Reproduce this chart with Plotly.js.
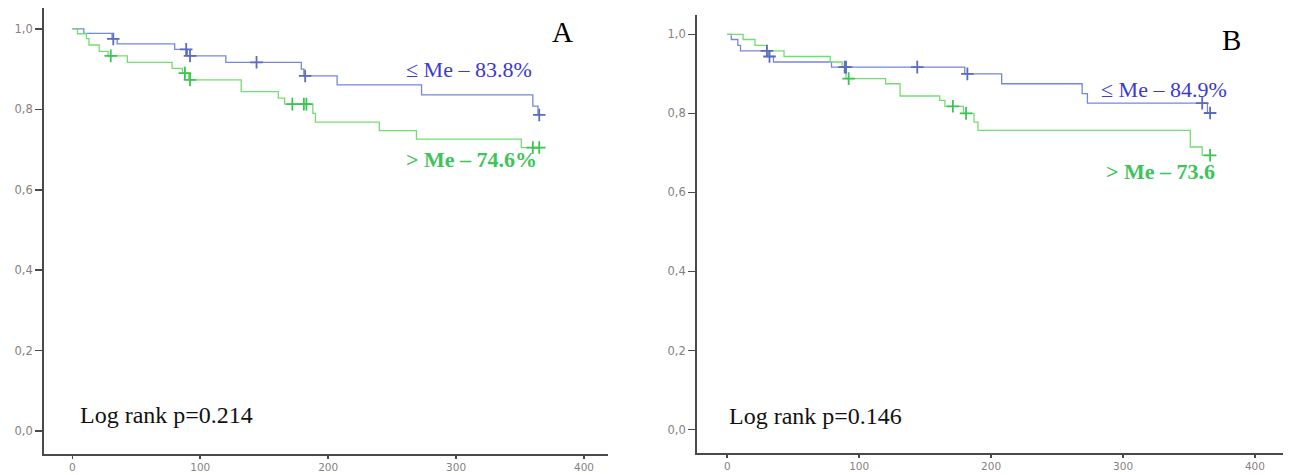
<!DOCTYPE html>
<html>
<head>
<meta charset="utf-8">
<script src="https://cdn.plot.ly/plotly-3.0.1.min.js"></script>
<style>html,body{margin:0;padding:0;background:#fff;}#chart{width:1292px;height:475px;}</style>
</head>
<body>
<div id="chart"></div>
<script>
// Panel A — Kaplan–Meier step data (time in days, cumulative survival)
const aBlueT = [0, 9, 31, 35, 80, 90, 120, 179, 181, 207, 273, 360, 364, 365];
const aBlueS = [1, 0.989, 0.975, 0.963, 0.949, 0.933, 0.917, 0.900, 0.883, 0.861, 0.836, 0.808, 0.786, 0.786];
const aBlueCensT = [32, 89, 92, 144, 182, 365];
const aBlueCensS = [0.975, 0.949, 0.933, 0.917, 0.883, 0.786];

const aGreenT = [0, 4, 11, 13, 21, 28, 43, 78, 86, 91, 132, 161, 166, 188, 190, 240, 269, 351, 365];
const aGreenS = [1, 0.988, 0.976, 0.960, 0.944, 0.933, 0.917, 0.902, 0.890, 0.873, 0.844, 0.828, 0.813, 0.790, 0.768, 0.747, 0.726, 0.705, 0.705];
const aGreenCensT = [30, 88, 92, 172, 181, 183, 360, 365];
const aGreenCensS = [0.933, 0.890, 0.873, 0.813, 0.813, 0.813, 0.705, 0.705];

// Panel B
const bBlueT = [0, 3, 8, 10, 31, 35, 79, 180, 208, 269, 273, 364, 366];
const bBlueS = [1, 0.987, 0.972, 0.958, 0.944, 0.930, 0.917, 0.900, 0.875, 0.850, 0.826, 0.801, 0.801];
const bBlueCensT = [30, 32, 89, 90, 144, 182, 360, 366];
const bBlueCensS = [0.958, 0.944, 0.917, 0.917, 0.917, 0.900, 0.826, 0.801];

const bGreenT = [0, 12, 21, 30, 43, 78, 87, 90, 120, 131, 161, 165, 179, 187, 190, 351, 360, 366];
const bGreenS = [1, 0.987, 0.972, 0.958, 0.944, 0.930, 0.917, 0.888, 0.875, 0.844, 0.833, 0.818, 0.800, 0.778, 0.757, 0.715, 0.694, 0.694];
const bGreenCensT = [92, 171, 181, 366];
const bGreenCensS = [0.888, 0.818, 0.800, 0.694];

const xTicks = [0, 100, 200, 300, 400];
const yTicks = [0, 0.2, 0.4, 0.6, 0.8, 1.0];

const labelsA = {low: "≤ Me – 83.8%", high: "> Me – 74.6%", p: "Log rank p=0.214", panel: "A"};
const labelsB = {low: "≤ Me – 84.9%", high: "> Me – 73.6", p: "Log rank p=0.146", panel: "B"};

const BLUE = "#7588dc", GREEN = "#72de72";
const BLUE_M = "#5a6cc0", GREEN_M = "#3cc452";

function stepTrace(x, y, color, xa, ya) {
  return {x: x, y: y, xaxis: xa, yaxis: ya, mode: "lines", line: {shape: "hv", color: color, width: 1.3}, hoverinfo: "skip", showlegend: false};
}
function censTrace(x, y, color, xa, ya) {
  return {x: x, y: y, xaxis: xa, yaxis: ya, mode: "markers", marker: {symbol: "cross-thin", size: 9, line: {color: color, width: 1.8}}, hoverinfo: "skip", showlegend: false};
}

const data = [
  stepTrace(aBlueT, aBlueS, BLUE, "x", "y"),
  stepTrace(aGreenT, aGreenS, GREEN, "x", "y"),
  censTrace(aBlueCensT, aBlueCensS, BLUE_M, "x", "y"),
  censTrace(aGreenCensT, aGreenCensS, GREEN_M, "x", "y"),
  stepTrace(bBlueT, bBlueS, BLUE, "x2", "y2"),
  stepTrace(bGreenT, bGreenS, GREEN, "x2", "y2"),
  censTrace(bBlueCensT, bBlueCensS, BLUE_M, "x2", "y2"),
  censTrace(bGreenCensT, bGreenCensS, GREEN_M, "x2", "y2")
];

const W = 1292, H = 475;
const tickFont = {family: "DejaVu Sans", size: 11.5, color: "#868280"};
function xAxis(dom, range, anchor) {
  return {domain: dom, range: range, anchor: anchor, tickvals: xTicks, showgrid: false, zeroline: false,
    showline: true, linecolor: "#4a4a4a", linewidth: 1.6, ticks: "outside", ticklen: 3, tickwidth: 1.6, tickcolor: "#4a4a4a",
    tickfont: {family: "DejaVu Sans", size: 10.5, color: "#868280"}, fixedrange: true};
}
function yAxis(dom, range, anchor) {
  return {domain: dom, range: range, anchor: anchor, tickvals: yTicks, tickformat: ".1f", showgrid: false, zeroline: false,
    showline: true, linecolor: "#4a4a4a", linewidth: 1.6, ticks: "outside", ticklen: 7, tickwidth: 1.6, tickcolor: "#4a4a4a",
    tickfont: tickFont, fixedrange: true};
}

function ann(text, px, py, opts) {
  return Object.assign({text: text, xref: "paper", yref: "paper", x: px / W, y: 1 - py / H, showarrow: false,
    xanchor: "left", yanchor: "middle"}, opts);
}
const serif = "Liberation Serif, Times New Roman, serif";

const layout = {
  width: W, height: H, margin: {l: 0, r: 0, t: 0, b: 0},
  paper_bgcolor: "#fff", plot_bgcolor: "#fff", separators: ", ", showlegend: false,
  xaxis: xAxis([43.7 / W, 608.3 / W], [-22.4, 419], "y"),
  yaxis: yAxis([1 - 454 / H, 1 - 8 / H], [-0.0572, 1.052], "x"),
  xaxis2: xAxis([696.7 / W, 1283.3 / W], [-23.2, 421.5], "y2"),
  yaxis2: yAxis([1 - 453 / H, 1 - 15 / H], [-0.0594, 1.049], "x2"),
  annotations: [
    ann(labelsA.low, 404, 69, {font: {family: serif, size: 22, color: "#3a3ad0"}}),
    ann("<b>" + labelsA.high + "</b>", 404, 159, {font: {family: serif, size: 22, color: "#3dc45a"}}),
    ann(labelsA.panel, 550, 32, {font: {family: serif, size: 29, color: "#000"}}),
    ann(labelsA.p, 78, 415, {font: {family: serif, size: 24, color: "#111"}}),
    ann(labelsB.low, 1099, 89, {font: {family: serif, size: 22, color: "#3a3ad0"}}),
    ann("<b>" + labelsB.high + "</b>", 1104, 171, {font: {family: serif, size: 22, color: "#3dc45a"}}),
    ann(labelsB.panel, 1220, 40, {font: {family: serif, size: 29, color: "#000"}}),
    ann(labelsB.p, 727, 416, {font: {family: serif, size: 24, color: "#111"}})
  ]
};

Plotly.newPlot("chart", data, layout, {displayModeBar: false, staticPlot: true});
</script>
</body>
</html>
